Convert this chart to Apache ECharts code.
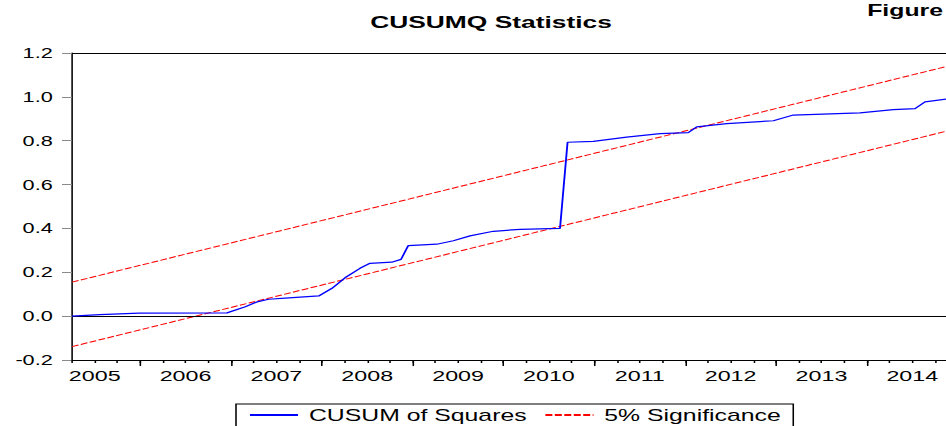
<!DOCTYPE html>
<html>
<head>
<meta charset="utf-8">
<script src="https://cdn.jsdelivr.net/npm/echarts@6/dist/echarts.min.js"></script>
<style>
html,body{margin:0;padding:0;background:#fff;overflow:hidden;width:946px;height:426px;}
#c{width:610px;height:426px;transform:scaleX(1.55082);transform-origin:0 0;}
</style>
</head>
<body>
<div id="c"></div>
<script>
// ---- data ----
const cusumDates = [2005.25, 2005.558, 2005.988, 2006.956, 2007.158, 2007.287, 2007.415, 2007.598, 2007.966,
  2008.112, 2008.255, 2008.420, 2008.530, 2008.769, 2008.872, 2008.952, 2009.265, 2009.448, 2009.631,
  2009.888, 2010.182, 2010.622, 2010.705, 2010.989, 2011.356, 2011.723, 2012.034, 2012.127, 2012.457,
  2012.970, 2013.190, 2013.924, 2014.291, 2014.530, 2014.640, 2014.879];
const cusumValues = [0.000, 0.007, 0.014, 0.015, 0.043, 0.065, 0.077, 0.082, 0.092,
  0.127, 0.175, 0.218, 0.241, 0.246, 0.259, 0.322, 0.328, 0.344, 0.366,
  0.387, 0.396, 0.400, 0.793, 0.797, 0.816, 0.832, 0.837, 0.863, 0.878,
  0.891, 0.917, 0.927, 0.942, 0.946, 0.977, 0.990];
const bandDates = [2005.25, 2014.871];
const upperBand = [0.155, 1.138];
const lowerBand = [-0.139, 0.843];
const yearLabels = ['2005','2006','2007','2008','2009','2010','2011','2012','2013','2014'];
const titleText = 'CUSUMQ Statistics';
const cornerText = 'Figure';
const seriesNames = ['CUSUM of Squares', '5% Significance'];

// ---- layout ----
const SX = 946 / 610;          // horizontal stretch of the reference
const X_MIN = 2005.25, X_MAX = 2014.871;
const FONT = "'Liberation Sans', Arial, sans-serif";

const quarterTicks = [];
for (let t = X_MIN; t <= X_MAX + 1e-9; t += 0.25) quarterTicks.push(+t.toFixed(2));
const yearTicks = yearLabels.map(y => +y).filter(y => y >= X_MIN && y <= X_MAX);
const labelPos = yearLabels.map(y => +y + 0.5);

const zip = (a, b) => a.map((v, i) => [v, b[i]]);

const chart = echarts.init(document.getElementById('c'), null, {renderer: 'svg'});
chart.setOption({
  animation: false,
  backgroundColor: '#fff',
  grid: {left: 72 / SX, right: 0, top: 53, bottom: 66, containLabel: false},
  xAxis: [
    {
      type: 'value', min: X_MIN, max: X_MAX, position: 'bottom',
      axisLine: {show: true, onZero: false, lineStyle: {color: '#000', width: 1}},
      axisTick: {show: true, length: 3, customValues: quarterTicks, lineStyle: {color: '#000', width: 1}},
      axisLabel: {
        show: true, customValues: labelPos, margin: 8,
        formatter: v => String(Math.floor(v + 1e-6)),
        color: '#000', fontSize: 15, fontFamily: FONT
      },
      splitLine: {show: false}
    },
    {
      type: 'value', min: X_MIN, max: X_MAX, position: 'bottom',
      axisLine: {show: false, onZero: false},
      axisTick: {show: true, length: 6, customValues: yearTicks, lineStyle: {color: '#000', width: 1}},
      axisLabel: {show: false},
      splitLine: {show: false}
    },
    {
      type: 'value', min: X_MIN, max: X_MAX, position: 'top',
      axisLine: {show: true, onZero: false, lineStyle: {color: '#000', width: 1}},
      axisTick: {show: false}, axisLabel: {show: false}, splitLine: {show: false}
    }
  ],
  yAxis: {
    type: 'value', min: -0.2, max: 1.2, interval: 0.2,
    axisLine: {show: true, onZero: false, lineStyle: {color: '#000', width: 1}},
    axisTick: {show: true, length: 10 / SX, lineStyle: {color: '#8a8a8a', width: 1}},
    axisLabel: {color: '#000', fontSize: 14, fontFamily: FONT, margin: 12.4,
      formatter: v => v.toFixed(1)},
    splitLine: {show: false}
  },
  legend: {
    show: true, left: 236 / SX, top: 404, orient: 'horizontal',
    data: seriesNames,
    itemWidth: 31, itemHeight: 14, itemGap: 11,
    padding: [3, 8, 14, 8],
    borderColor: '#000', borderWidth: 1,
    itemStyle: {opacity: 0, borderWidth: 0},
    textStyle: {color: '#000', fontSize: 16, fontFamily: FONT, padding: [0, 0, 0, 2]}
  },
  graphic: [
    {type: 'text', x: 491 / SX, y: 22, silent: true,
      style: {text: titleText, fill: '#000', fontSize: 17, fontWeight: 'bold', fontFamily: FONT,
        align: 'center', verticalAlign: 'middle'}},
    {type: 'text', x: 943 / SX, y: 2, silent: true,
      style: {text: cornerText, fill: '#000', fontSize: 16, fontWeight: 'bold', fontFamily: FONT,
        align: 'right', verticalAlign: 'top'}}
  ],
  series: [
    {
      name: seriesNames[0], type: 'line', xAxisIndex: 0, data: zip(cusumDates, cusumValues),
      showSymbol: false, symbol: 'none', clip: true, z: 5,
      lineStyle: {color: '#0000ff', width: 1.2}, itemStyle: {color: '#0000ff'},
      markLine: {
        silent: true, symbol: ['none', 'none'], label: {show: false},
        lineStyle: {color: '#000', type: 'solid', width: 1},
        data: [{yAxis: 0}]
      }
    },
    {
      name: seriesNames[1], type: 'line', xAxisIndex: 0, data: zip(bandDates, upperBand),
      showSymbol: false, symbol: 'none', clip: true, z: 4,
      lineStyle: {color: '#ff0000', width: 1, type: [4.5, 1.6]}, itemStyle: {color: '#ff0000'}
    },
    {
      name: seriesNames[1], type: 'line', xAxisIndex: 0, data: zip(bandDates, lowerBand),
      showSymbol: false, symbol: 'none', clip: true, z: 4,
      lineStyle: {color: '#ff0000', width: 1, type: [4.5, 1.6]}, itemStyle: {color: '#ff0000'}
    }
  ]
});
</script>
</body>
</html>
